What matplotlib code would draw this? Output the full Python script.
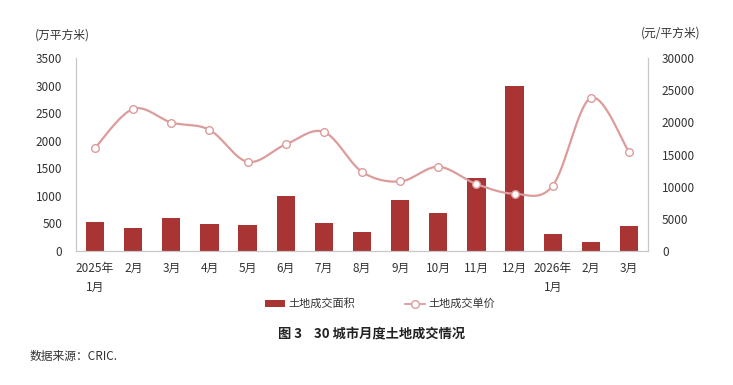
import numpy as np
import matplotlib
matplotlib.use("Agg")
import matplotlib.pyplot as plt
from matplotlib.lines import Line2D
from matplotlib.patches import Patch

plt.rcParams['font.family'] = ['Noto Sans CJK SC', 'DejaVu Sans']

categories = ["2025年\n1月", "2月", "3月", "4月", "5月", "6月", "7月", "8月",
              "9月", "10月", "11月", "12月", "2026年\n1月", "2月", "3月"]
area = [520, 423, 604, 495, 477, 1000, 508, 350, 925, 683, 1330, 3000, 308, 163, 448]
price = [16030, 22090, 19970, 18830, 13860, 16560, 18520, 12310,
         10810, 13090, 10400, 8900, 10140, 23800, 15370]
left_ticks = [0, 500, 1000, 1500, 2000, 2500, 3000, 3500]
right_ticks = [0, 5000, 10000, 15000, 20000, 25000, 30000]

bar_color = '#A93434'
line_color = '#DC9C9C'
text_color = '#333333'
spine_color = '#C8C8C8'

fig = plt.figure(figsize=(7.33, 3.85), dpi=100)
ax = fig.add_axes([76/733, 1-251/385, 572/733, 193/385])
ax2 = ax.twinx()

x = np.arange(len(categories))
ax.bar(x, area, width=0.48, color=bar_color, zorder=2)

# Excel-style smoothed line (Bezier through the data points)
def smooth(xs, ys, n=30):
    xs = np.asarray(xs, float); ys = np.asarray(ys, float)
    pts = np.column_stack([xs, ys])
    out = []
    for i in range(len(pts) - 1):
        p0 = pts[i - 1] if i > 0 else pts[i]
        p1 = pts[i]
        p2 = pts[i + 1]
        p3 = pts[i + 2] if i + 2 < len(pts) else pts[i + 1]
        c1 = p1 + (p2 - p0) / 6
        c2 = p2 - (p3 - p1) / 6
        t = np.linspace(0, 1, n)[:, None]
        seg = ((1-t)**3)*p1 + 3*((1-t)**2)*t*c1 + 3*(1-t)*t**2*c2 + t**3*p2
        out.append(seg if i == 0 else seg[1:])
    s = np.vstack(out)
    return s[:, 0], s[:, 1]

sx, sy = smooth(x, price)
ax2.plot(sx, sy, color=line_color, lw=1.6, zorder=3, solid_capstyle='round')
ax2.plot(x, price, linestyle='none', marker='o', markersize=5.5,
         markerfacecolor='white', markeredgecolor=line_color, markeredgewidth=1.0, zorder=4)

ax.set_xlim(-0.5, len(categories) - 0.5)
ax.set_ylim(0, 3500)
ax2.set_ylim(0, 30000)
ax.set_yticks(left_ticks)
ax2.set_yticks(right_ticks)
ax.set_xticks(x)
ax.set_xticklabels(categories, fontsize=8.5, color=text_color, linespacing=1.6, va='top')
ax.tick_params(axis='x', length=0, pad=8)
ax.tick_params(axis='y', length=0, labelsize=8.5, labelcolor=text_color, pad=10)
ax2.tick_params(axis='y', length=0, labelsize=8.5, labelcolor=text_color, pad=10)

for a in (ax, ax2):
    a.spines['top'].set_visible(False)
    a.spines['left'].set_color(spine_color)
    a.spines['right'].set_color(spine_color)
    a.spines['bottom'].set_color(spine_color)
ax.set_zorder(ax2.get_zorder() - 1)
ax2.patch.set_visible(False)
ax.patch.set_visible(True)
ax.patch.set_facecolor('white')

fig.text(35/733, 1-35/385, "(万平方米)", fontsize=8.5, color=text_color, va='center', ha='left')
fig.text(700/733, 1-33/385, "(元/平方米)", fontsize=8.5, color=text_color, va='center', ha='right')

handles = [Patch(facecolor=bar_color, edgecolor='none'),
           Line2D([0], [0], color=line_color, lw=1.3, marker='o', markersize=5.5,
                  markerfacecolor='white', markeredgecolor=line_color)]
fig.legend(handles, ["土地成交面积", "土地成交单价"], loc='center', bbox_to_anchor=(380/733, 1-304/385),
           ncol=2, frameon=False, fontsize=8, handlelength=1.8, handleheight=0.6,
           columnspacing=4.5, handletextpad=0.3, labelcolor=text_color)

fig.text(372/733, 1-334/385, "图 3    30 城市月度土地成交情况", fontsize=9.5, fontweight='bold',
         color='#222222', ha='center', va='center')
fig.text(30/733, 1-356/385, "数据来源：CRIC.", fontsize=8.5, color=text_color, ha='left', va='center')

fig.savefig("out.png", dpi=100, facecolor='white')
